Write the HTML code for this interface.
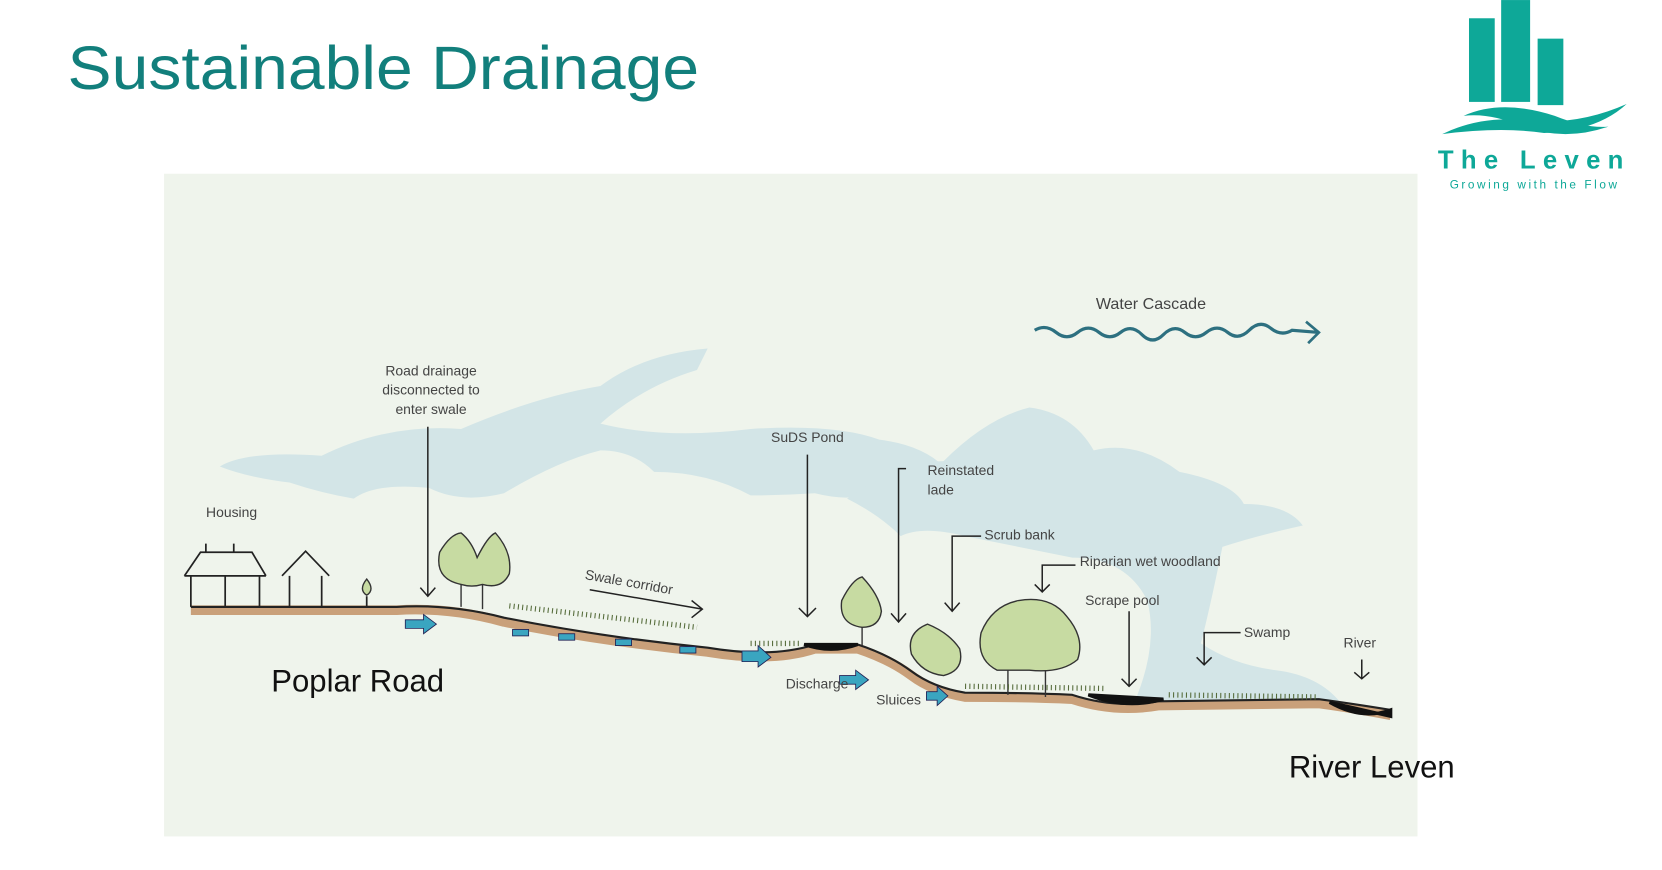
<!DOCTYPE html>
<html><head><meta charset="utf-8"><style>
html,body{margin:0;padding:0;background:#fff;width:1662px;height:870px;overflow:hidden}
svg{display:block}
text{font-family:"Liberation Sans",sans-serif}
</style></head><body>
<svg width="1662" height="870" viewBox="0 0 1550 811.3" xmlns="http://www.w3.org/2000/svg">
<rect x="0" y="0" width="1550" height="812" fill="#fff"/>
<text x="63" y="83" font-size="57" fill="#127f7c" textLength="589" lengthAdjust="spacingAndGlyphs">Sustainable Drainage</text>
<!-- logo -->
<g fill="#0ea898">
<rect x="1370" y="17" width="24" height="78"/>
<rect x="1400" y="0" width="27" height="95"/>
<rect x="1434" y="36" width="24" height="62"/>
<path d="M1345,125 Q1380,108 1420,112 Q1470,118 1517,97 Q1490,122 1440,124 Q1400,118 1345,125Z"/>
<path d="M1365,108 Q1400,92 1450,108 Q1480,120 1500,118 Q1460,132 1420,118 Q1390,105 1365,108Z"/>
</g>
<text x="1341" y="157" font-size="24" font-weight="bold" fill="#0ea898" textLength="173" lengthAdjust="spacing">The Leven</text>
<text x="1352" y="176" font-size="11" fill="#0ea898" textLength="156" lengthAdjust="spacing">Growing with the Flow</text>
<!-- panel -->
<rect x="153" y="162" width="1169" height="618" fill="#eff4ec"/>
<!-- clouds -->
<g fill="#d3e5e7">
<path d="M205,435 Q230,420 300,425 Q360,395 430,400 Q500,370 560,360 Q600,330 660,325 L650,345 Q600,360 560,395 Q620,410 700,400 Q780,395 820,410 Q860,415 880,435 Q860,450 820,455 Q800,470 760,460 Q730,462 700,462 Q660,440 610,440 Q590,420 560,420 Q520,430 470,460 Q430,470 400,455 Q350,450 330,465 Q300,460 270,450 Q230,445 205,435Z"/>
<path d="M790,465 Q840,430 880,430 Q920,390 960,380 Q1000,385 1020,420 Q1060,410 1100,440 Q1150,450 1160,470 Q1200,470 1215,490 Q1170,500 1140,510 Q1130,560 1120,600 Q1150,620 1190,625 Q1230,630 1250,655 Q1180,660 1100,655 L1060,650 Q1080,600 1070,560 Q1050,520 1000,520 Q950,510 900,500 Q860,490 840,500 Q820,480 790,465Z"/>
</g>
<!-- ground -->
<path d="M178,569 L370,569 Q420,566 470,580 Q560,598 660,608 Q720,618 760,605 L800,605 Q830,615 850,630 Q870,645 900,650 Q960,650 1000,652 Q1040,665 1080,658 L1230,656 Q1260,660 1297,667" fill="none" stroke="#c9a07a" stroke-width="9"/>
<path d="M178,566 L370,566 Q420,563 470,576 Q560,594 660,604 Q720,614 760,601 L800,601 Q830,611 850,626 Q870,641 900,646 Q960,646 1000,648 Q1040,661 1080,654 L1230,652 Q1260,656 1297,662" fill="none" stroke="#222" stroke-width="2"/>
<path d="M750,601 Q775,610 800,601Z M1015,648 Q1050,662 1085,652Z M1240,655 Q1270,672 1297,662 L1297,668Z" fill="#111" stroke="#111" stroke-width="3"/>
<!-- houses -->
<g fill="none" stroke="#222" stroke-width="1.6">
<path d="M172,537 L187,515 L235,515 L248,537 M178,537 L178,566 M242,537 L242,566 M210,537 L210,566 M172,537 L248,537 M192,515 L192,507 M218,515 L218,507"/>
<path d="M263,537 L285,514 L307,537 M270,537 L270,566 M300,537 L300,566"/>
<path d="M342,556 L342,566"/>
</g>
<!-- trees -->
<g fill="#c7dba2" stroke="#333" stroke-width="1.3">
<path d="M342,555 Q334,550 342,540 Q350,550 342,555Z"/>
<path d="M430,545 Q405,540 410,515 Q420,498 430,497 Q440,505 445,520 Q455,500 462,497 Q478,515 475,535 Q468,550 450,545 Q440,548 430,545Z"/>
<path d="M804,585 Q782,582 785,560 Q795,540 804,538 Q820,555 822,570 Q820,585 804,585Z"/>
<path d="M850,610 Q845,590 865,582 Q885,590 895,605 Q900,625 880,630 Q860,628 850,610Z"/>
<path d="M930,625 Q910,615 915,590 Q925,565 950,560 Q980,555 995,575 Q1012,595 1005,615 Q990,628 960,625 Z"/>
</g>
<g stroke="#333" stroke-width="1.3"><path d="M430,545 L430,566 M450,545 L450,568 M804,585 L804,602 M940,625 L940,648 M975,625 L975,650"/></g>
<!-- grass -->
<path d="M475,565 L650,585 M700,600 L745,600 M1090,648 L1230,650 M900,640 L1030,642" stroke="#556b3a" stroke-width="5" stroke-dasharray="1 3" fill="none"/>
<!-- flow arrows -->
<g fill="#3aa5c0" stroke="#225" stroke-width="0.8">
<path d="M378,578 L395,578 L395,573 L407,582 L395,591 L395,586 L378,586Z"/>
<rect x="478" y="587" width="15" height="6"/><rect x="521" y="591" width="15" height="6"/><rect x="574" y="596" width="15" height="6"/><rect x="634" y="603" width="15" height="6"/>
<path d="M692,607 L707,607 L707,602 L719,613 L707,622 L707,617 L692,617Z"/>
<path d="M783,630 L798,630 L798,625 L810,634 L798,643 L798,638 L783,638Z"/>
<path d="M864,645 L874,645 L874,640 L884,649 L874,658 L874,653 L864,653Z"/>
</g>
<!-- labels -->
<g font-size="13" fill="#444" text-anchor="middle">
<text x="402" y="350">Road drainage</text><text x="402" y="368">disconnected to</text><text x="402" y="386">enter swale</text>
<text x="216" y="482">Housing</text><text x="753" y="412">SuDS Pond</text>
<text x="762" y="642">Discharge</text><text x="838" y="657">Sluices</text>
</g>
<g font-size="13" fill="#444">
<text x="865" y="443">Reinstated</text><text x="865" y="461">lade</text>
<text x="918" y="503">Scrub bank</text><text x="1007" y="528">Riparian wet woodland</text>
<text x="1012" y="564">Scrape pool</text><text x="1160" y="594">Swamp</text><text x="1253" y="604">River</text>
<text x="1022" y="288" font-size="15">Water Cascade</text>
<text x="545" y="540" transform="rotate(10 545 540)">Swale corridor</text>
</g>
<g fill="none" stroke="#222" stroke-width="1.4">
<path d="M399,398 L399,556 M392,548 L399,556 L406,548"/>
<path d="M753,424 L753,575 M745,567 L753,575 L761,567"/>
<path d="M845,437 L838,437 L838,580 M831,572 L838,580 L845,572"/>
<path d="M915,500 L888,500 L888,570 M881,562 L888,570 L895,562"/>
<path d="M1003,527 L972,527 L972,552 M965,545 L972,552 L979,545"/>
<path d="M1053,570 L1053,640 M1046,633 L1053,640 L1060,633"/>
<path d="M1157,590 L1123,590 L1123,620 M1116,613 L1123,620 L1130,613"/>
<path d="M1270,615 L1270,633 M1263,627 L1270,633 L1277,627"/>
<path d="M550,550 L655,568 M645,560 L655,568 L645,576"/>
</g>
<path d="M965,308 Q975,302 985,310 T1005,310 T1025,310 T1045,310 T1065,312 T1085,312 T1105,310 T1125,310 T1145,310 T1165,308 T1185,306 T1205,308 L1230,310" fill="none" stroke="#2d7080" stroke-width="3"/>
<path d="M1218,300 L1230,310 L1220,320" fill="none" stroke="#2d7080" stroke-width="2.5"/>
<text x="253" y="645" font-size="29" fill="#111">Poplar Road</text>
<text x="1202" y="725" font-size="29" fill="#111">River Leven</text>
</svg>
</body></html>
